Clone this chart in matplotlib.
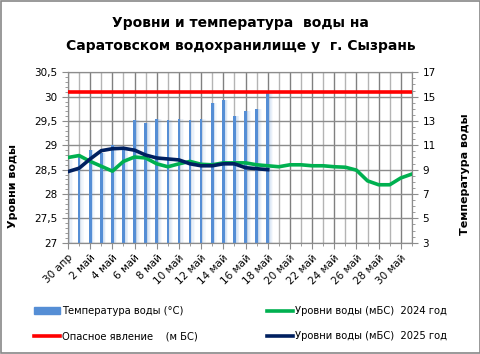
import numpy as np
import matplotlib.pyplot as plt
from matplotlib.patches import Rectangle
from matplotlib.lines import Line2D
from matplotlib.ticker import MultipleLocator, FixedLocator, FuncFormatter

# dates 30 Apr .. 31 May
dates = ['30 апр'] + [f'{d} май' for d in range(1, 32)]
temp = [9.8, 10.0, 10.6, 10.4, 11.0, 10.7, 13.1, 12.8, 13.2, 13.1,
        13.2, 13.1, 13.2, 14.5, 14.7, 13.4, 13.8, 14.0, 15.3]
level_2024 = [28.75, 28.79, 28.67, 28.57, 28.47, 28.67, 28.76, 28.74, 28.62, 28.56,
              28.62, 28.67, 28.61, 28.60, 28.64, 28.64, 28.64, 28.60, 28.58, 28.56,
              28.60, 28.60, 28.58, 28.58, 28.56, 28.55, 28.49, 28.27, 28.19, 28.19,
              28.33, 28.41]
level_2025 = [28.46, 28.53, 28.72, 28.89, 28.93, 28.94, 28.90, 28.80, 28.74, 28.72,
              28.70, 28.62, 28.58, 28.58, 28.62, 28.62, 28.54, 28.52, 28.50]
danger = 30.1

x_all = np.arange(len(dates))

fig = plt.figure(figsize=(4.81, 3.54), dpi=100)
fig.patches.append(Rectangle((0.002, 0.002), 0.996, 0.996, transform=fig.transFigure,
                             fill=False, edgecolor='#888888', linewidth=1.2))

ax = fig.add_axes([0.1414, 0.3144, 0.715, 0.4814])
ax2 = ax.twinx()
ax.set_zorder(ax2.get_zorder() + 1)
ax.patch.set_visible(False)
ax2.set_facecolor('#f2f2f2')

# temperature bars with soft glow on the right
xb = np.arange(len(temp))
for k, a in enumerate([0.16, 0.12, 0.08, 0.05]):
    ax2.bar(xb + 0.14 + 0.08 * k, temp, width=0.14, bottom=0, color='#558ed5',
            alpha=a, linewidth=0, zorder=1)
ax2.bar(xb, temp, width=0.24, color='#558ed5', linewidth=0, zorder=2)
ax2.set_ylim(3, 17)
ax2.yaxis.set_major_locator(FixedLocator(np.arange(3, 18, 2)))
ax2.yaxis.set_minor_locator(MultipleLocator(0.5))

# grid (drawn on ax2, behind bars)
for i in x_all:
    ax2.axvline(i, color='#808080' if i % 2 == 0 else '#b4b4b4', lw=1.0, zorder=0)
for v in np.arange(27, 30.51, 0.5):
    yv = 3 + (v - 27) / 3.5 * 14
    ax2.axhline(yv, color='#8c8c8c', lw=1.0, zorder=0)

ax.axhline(danger, color='#ff0000', lw=2.6, zorder=3)
ax.plot(x_all, level_2024, color='#00b050', lw=2.6, zorder=4)
ax.plot(np.arange(len(level_2025)), level_2025, color='#002060', lw=2.6, zorder=5)

ax.set_xlim(0, len(dates) - 1)
ax.set_ylim(27, 30.5)
ax.yaxis.set_major_locator(MultipleLocator(0.5))
ax.yaxis.set_minor_locator(MultipleLocator(0.1))
ax.yaxis.set_major_formatter(FuncFormatter(lambda v, p: f'{v:g}'.replace('.', ',')))
ax2.yaxis.set_major_formatter(FuncFormatter(lambda v, p: f'{v:g}'))

ax.set_xticks(x_all[::2])
ax.set_xticklabels(dates[::2], rotation=45, ha='right', rotation_mode='anchor',
                   fontsize=7.5)
ax.set_xticks(x_all, minor=True)

for a in (ax, ax2):
    for s in a.spines.values():
        s.set_color('#8c8c8c')
    a.tick_params(axis='both', which='both', colors='#8c8c8c', labelcolor='black',
                  labelsize=7.5)
    a.tick_params(which='major', length=4)
    a.tick_params(which='minor', length=2)
ax.tick_params(axis='x', pad=3)

ax.set_ylabel('Уровни воды', fontsize=8, fontweight='bold')
ax.yaxis.set_label_coords(-0.145, 0.33)
ax2.set_ylabel('Температура воды', fontsize=8, fontweight='bold')
ax2.yaxis.set_label_coords(1.14, 0.4)

fig.text(0.5, 0.935, 'Уровни и температура  воды на', ha='center', va='center',
         fontsize=10, fontweight='bold')
fig.text(0.5, 0.87, 'Саратовском водохранилище у  г. Сызрань', ha='center',
         va='center', fontsize=10, fontweight='bold')

handles = [
    Rectangle((0, 0), 1, 1, color='#558ed5'),
    Line2D([], [], color='#ff0000', lw=2.6),
    Line2D([], [], color='#00b050', lw=2.6),
    Line2D([], [], color='#002060', lw=2.6),
]
labels = ['Температура воды (°C)', 'Опасное явление    (м БС)',
          'Уровни воды (мБС)  2024 год', 'Уровни воды (мБС)  2025 год']
fig.legend(handles, labels, ncol=2, loc='center', bbox_to_anchor=(0.5, 0.085),
           frameon=False, fontsize=7.2, handlelength=2.6, handleheight=0.7,
           handletextpad=0.2, columnspacing=7.0, labelspacing=1.5)

fig.savefig('out.png', dpi=100)
